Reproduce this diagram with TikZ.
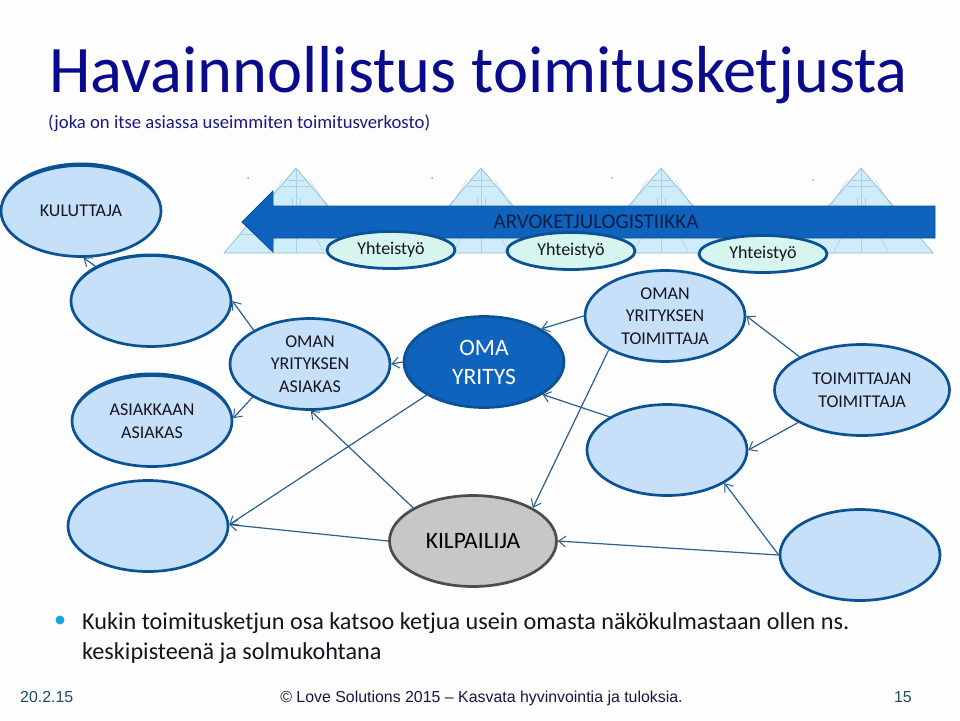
\documentclass[tikz,border=0pt]{standalone}
\usepackage{fontspec}
\setmainfont{Carlito}
\newfontfamily\footfont{Liberation Sans}
\usetikzlibrary{arrows.meta,shapes.geometric}
\definecolor{edgeblue}{HTML}{0B5294}
\definecolor{fillblue}{HTML}{C6E0F9}
\definecolor{deepblue}{HTML}{0F63BC}
\definecolor{linkblue}{HTML}{2B5F8E}
\definecolor{titleblue}{HTML}{0A0A8C}
\definecolor{subblue}{HTML}{1A1A80}
\definecolor{mint}{HTML}{D5F5EE}
\definecolor{pyrfill}{HTML}{CFECFB}
\definecolor{pyrline}{HTML}{8FBBD0}
\definecolor{pyrfaint}{HTML}{A9CFE0}
\definecolor{footnavy}{HTML}{14183F}
\definecolor{footteal}{HTML}{1F4E5F}
\definecolor{bgwhite}{HTML}{FDFDFD}
\definecolor{inkdark}{HTML}{15151F}
\definecolor{arvoink}{HTML}{0B1F45}
\tikzset{
  x=1pt,y=-1pt,
  blob/.style={ellipse,draw=edgeblue,line width=2.7pt,fill=fillblue,inner sep=0pt,
    minimum width=160pt,minimum height=91pt,align=center,font=\fontsize{18}{22.5}\selectfont,text=inkdark},
  link/.style={draw=linkblue,line width=1.2pt,-{Straight Barb[length=7pt,width=11pt,line width=1pt]}},
  coop/.style={ellipse,draw=edgeblue,line width=2.8pt,fill=mint,minimum width=128pt,minimum height=37pt,inner sep=0pt,font=\fontsize{18}{20}\selectfont,text=inkdark},
  pyr/.style={draw=pyrline,line width=0.7pt,fill=pyrfill},
  crescent/.style={fill=edgeblue},
  foot/.style={inner sep=0pt,font=\footfont\fontsize{15.9}{18}\selectfont},
}
\newcommand{\pyramid}[1]{%
  \begin{scope}[shift={(#1,0)}]
    \draw[pyr] (-72,253) -- (0,168) -- (72,253) -- cycle;
    \draw[pyrfaint,line width=0.5pt] (0,168) -- (0,253);
    \draw[pyrfaint,line width=0.5pt] (-57,234) -- (57,234);
    \draw[pyrfaint,line width=0.4pt] (-10,180) -- (10,180) (-14,186) -- (14,186);
    \draw[pyrfaint,line width=0.4pt] (-30,206) -- (-14,180) (30,206) -- (14,180);
    \draw[pyrfaint,line width=0.4pt] (-4,205) -- (-4,198) (4,205) -- (4,198);
    \draw[pyrfaint,line width=0.5pt] (-28,253) -- (-20,238) (28,253) -- (20,238);
  \end{scope}}
\begin{document}
\begin{tikzpicture}
\useasboundingbox (0,0) rectangle (960,720);
\fill[bgwhite] (0,0) rectangle (960,720);
\node[anchor=base west,text=titleblue,font=\fontsize{66.5}{70}\selectfont,inner sep=0pt] (title) at (49,92) {Havainnollistus toimitusketjusta};
\node[anchor=base west,text=subblue,font=\fontsize{18.7}{22}\selectfont,inner sep=0pt] (sub) at (48,128) {(joka on itse asiassa useimmiten toimitusverkosto)};
\pyramid{296}\pyramid{481}\pyramid{661}\pyramid{861}
\fill[gray!70] (248,178) circle (1) (432,178) circle (1) (612,178) circle (1) (813,180) circle (1);
\draw[draw=edgeblue,fill=deepblue,line width=0.9pt] (935,206) -- (273,206) -- (273,191) -- (242,222) -- (273,252) -- (273,238) -- (935,238) -- cycle;
\node[text=arvoink,font=\fontsize{21}{24}\selectfont,inner sep=0pt] (arvo) at (596,222) {ARVOKETJULOGISTIIKKA};
\node[coop] (c1) at (391,250) {Yhteistyö};
\node[coop] (c2) at (571,251) {Yhteistyö};
\node[coop] (c3) at (763,254) {Yhteistyö};
\fill[crescent] (81,208.5) ellipse (80 and 46);
\fill[crescent] (151,298.5) ellipse (80 and 45);
\fill[crescent] (152,418.5) ellipse (80 and 46);
\node[blob] (kul) at (81,211) {KULUTTAJA};
\node[blob] (e1) at (151,301) {};
\node[blob] (aa) at (152,421) {ASIAKKAAN\\ASIAKAS};
\node[blob] (e2) at (148,526) {};
\node[blob] (oa) at (310,364) {OMAN\\YRITYKSEN\\ASIAKAS};
\node[blob,fill=deepblue,text=white,font=\fontsize{23.5}{29}\selectfont] (oma) at (484,362) {OMA\\YRITYS};
\node[blob] (ot) at (665,316) {OMAN\\YRITYKSEN\\TOIMITTAJA};
\node[blob,minimum width=175pt] (tt) at (862,390) {TOIMITTAJAN\\TOIMITTAJA};
\node[blob] (e3) at (667,450) {};
\node[blob] (e4) at (860,555) {};
\node[ellipse,draw=black!70,line width=2.7pt,fill=black!22,minimum width=167pt,minimum height=91pt,inner sep=0pt,text=black,font=\fontsize{23.5}{26}\selectfont] (kil) at (473,541) {KILPAILIJA};
\draw[link] (e1.148.5) -- (kul.-87.5);
\draw[link] (oa.149) -- (e1.0);
\draw[link] (oa.210) -- (aa.2);
\draw[link] (oma.180) -- (oa.0);
\draw[link] (oma.210) -- (e2.1);
\draw[link] (kil.151) -- (oa.-89);
\draw[link] (kil.180) -- (e2.1);
\draw[link] (ot.180) -- (oma.30);
\draw[link] (e3.150) -- (oma.-29);
\draw[link] (ot.211) -- (kil.29.5);
\draw[link] (tt.152.7) -- (ot.0);
\draw[link] (tt.207) -- (e3.0);
\draw[link] (e4.180) -- (kil.0);
\draw[link] (e4.180) -- (e3.-30);
\fill[cyan!80!teal] (60,620) circle (4.5);
\node[anchor=north west,align=left,text=inkdark,font=\fontsize{24.2}{30}\selectfont,inner sep=0pt] (body) at (82,612) {Kukin toimitusketjun osa katsoo ketjua usein omasta näkökulmastaan ollen ns.\\keskipisteenä ja solmukohtana};
\node[anchor=base west,foot,text=footteal] (date) at (20,702) {20.2.15};
\node[anchor=base,foot,text=footnavy] (footer) at (481.5,702) {© Love Solutions 2015 – Kasvata hyvinvointia ja tuloksia.};
\node[anchor=base east,foot,text=footteal] (num) at (912,702) {15};
\end{tikzpicture}
\end{document}
